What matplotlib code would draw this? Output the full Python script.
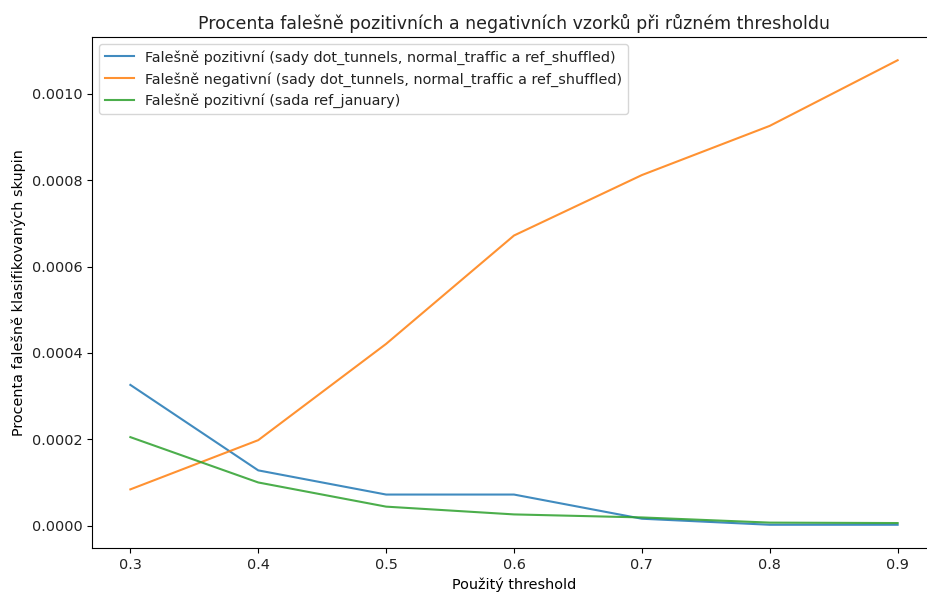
import matplotlib
matplotlib.use('Agg')
from matplotlib import pyplot as plt

# data
thresholds = [0.3, 0.4, 0.5, 0.6, 0.7, 0.8, 0.9]
fp_tunnels = [0.000326, 0.000128, 0.000072, 0.000072, 0.000016, 0.000002, 0.000002]
fn_tunnels = [0.0000840, 0.000198, 0.000421, 0.000672, 0.000812, 0.000926, 0.001078]
fp_january = [0.000205, 0.000100, 0.000044, 0.000026, 0.000019, 0.000007, 0.000006]

labels = [
    'Falešně pozitivní (sady dot_tunnels, normal_traffic a ref_shuffled)',
    'Falešně negativní (sady dot_tunnels, normal_traffic a ref_shuffled)',
    'Falešně pozitivní (sada ref_january)',
]


def main():
    plt.rcParams['font.size'] = 10.4
    plt.rcParams['text.color'] = '#222222'
    plt.rcParams['xtick.labelcolor'] = '#222222'
    plt.rcParams['ytick.labelcolor'] = '#222222'

    W, H = 928, 594
    fig = plt.figure(figsize=(W / 100, H / 100), dpi=100)
    # axes run past the right edge, as in the cropped reference
    ax = fig.add_axes([92 / W, (H - 548) / H, (936 - 92) / W, (548 - 37) / H])

    ax.plot(thresholds, fp_tunnels, label=labels[0], alpha=0.85)
    ax.plot(thresholds, fn_tunnels, label=labels[1], alpha=0.85)
    ax.plot(thresholds, fp_january, label=labels[2], alpha=0.85)
    ax.set_xlim(0.27, 0.93)

    ax.set_title('Procenta falešně pozitivních a negativních vzorků při různém thresholdu', fontsize=12.5)
    ax.set_xlabel('Použitý threshold')
    ax.set_ylabel('Procenta falešně klasifikovaných skupin')
    ax.legend(loc='upper left')

    fig.savefig('out.png', dpi=100)


if __name__ == '__main__':
    main()
